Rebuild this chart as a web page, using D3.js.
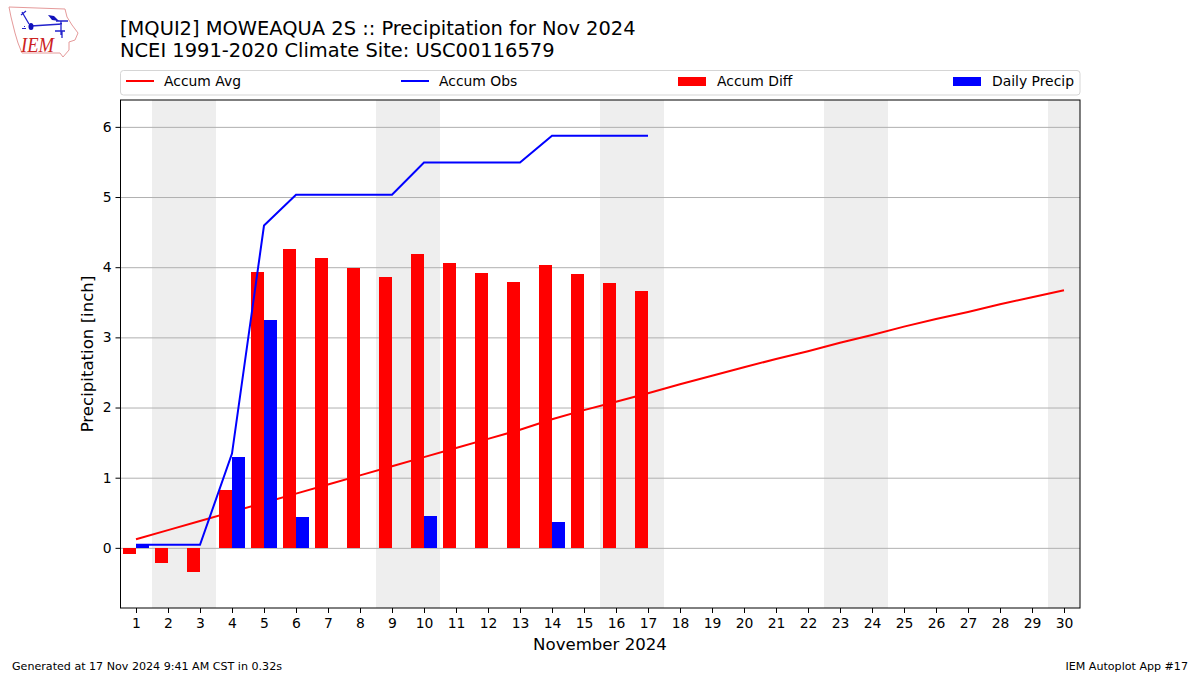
<!DOCTYPE html>
<html>
<head>
<meta charset="utf-8">
<script src="https://d3js.org/d3.v7.min.js"></script>
<style>
    html, body { margin: 0; padding: 0; background: #fff; }
    svg { display: block; }
    text { font-family: "DejaVu Sans", sans-serif; fill: #000; }
    .tick text { font-size: 13.9px; }
</style>
</head>
<body>
<svg id="chart" width="1200" height="675"></svg>
<script>
const days = d3.range(1, 31);
const weekendDays = [2, 3, 9, 10, 16, 17, 23, 24, 30];
const yTicks = [0, 1, 2, 3, 4, 5, 6];

const accumAvg = [0.13, 0.26, 0.39, 0.52, 0.65, 0.78, 0.91, 1.04, 1.17, 1.30,
    1.43, 1.56, 1.69, 1.84, 1.97, 2.09, 2.21, 2.34, 2.46, 2.58,
    2.70, 2.81, 2.93, 3.04, 3.16, 3.27, 3.37, 3.48, 3.58, 3.68];
const accumObs = [0.05, 0.05, 0.05, 1.35, 4.60, 5.04, 5.04, 5.04, 5.04, 5.50,
    5.50, 5.50, 5.50, 5.88, 5.88, 5.88, 5.88];
const accumDiff = [-0.08, -0.21, -0.34, 0.83, 3.94, 4.26, 4.14, 4.00, 3.87, 4.20,
    4.07, 3.93, 3.80, 4.04, 3.91, 3.78, 3.67];
const dailyPrecip = [0.05, 0, 0, 1.30, 3.25, 0.45, 0, 0, 0, 0.46,
    0, 0, 0, 0.38, 0, 0, 0];

const svg = d3.select('#chart');
const left = 120, right = 1080, top_ = 100, bottom = 608;

const x = d3.scaleLinear().domain([0.5, 30.5]).range([left, right]);
const y = d3.scaleLinear().domain([-0.85, 6.39]).range([bottom, top_]);
const barW = x(1.4) - x(1);

// weekends
svg.append('g').selectAll('rect')
    .data(weekendDays)
    .enter()
    .append('rect')
    .attr('x', d => x(d - 0.5))
    .attr('y', top_)
    .attr('width', x(1) - x(0))
    .attr('height', bottom - top_)
    .attr('fill', '#eeeeee');

// grid
svg.append('g').selectAll('line')
    .data(yTicks)
    .enter()
    .append('line')
    .attr('x1', left)
    .attr('x2', right)
    .attr('y1', d => y(d))
    .attr('y2', d => y(d))
    .attr('stroke', '#b0b0b0')
    .attr('stroke-width', 1);

const line = d3.line().x((d, i) => x(days[i])).y(d => y(d));

// avg sits under the bars, obs on top of them
svg.append('path')
    .attr('d', line(accumAvg))
    .attr('fill', 'none')
    .attr('stroke', '#ff0000')
    .attr('stroke-width', 2);

// bars
svg.append('g').attr('shape-rendering', 'crispEdges').selectAll('rect')
    .data(accumDiff)
    .enter()
    .append('rect')
    .attr('x', (d, i) => x(days[i] - 0.4))
    .attr('y', d => y(Math.max(d, 0)))
    .attr('width', barW)
    .attr('height', d => Math.abs(y(d) - y(0)))
    .attr('fill', '#ff0000');

svg.append('g').attr('shape-rendering', 'crispEdges').selectAll('rect')
    .data(dailyPrecip)
    .enter()
    .append('rect')
    .attr('x', (d, i) => x(days[i]))
    .attr('y', d => y(d))
    .attr('width', barW)
    .attr('height', d => y(0) - y(d))
    .attr('fill', '#0000ff');

svg.append('path')
    .attr('d', line(accumObs))
    .attr('fill', 'none')
    .attr('stroke', '#0000ff')
    .attr('stroke-width', 2);

// axes
svg.append('g')
    .attr('transform', `translate(0,${bottom})`)
    .call(d3.axisBottom(x).tickValues(days).tickFormat(d3.format('d')).tickSize(5).tickPadding(5).offset(0.5));
svg.append('g')
    .attr('transform', `translate(${left + 0.5},0)`)
    .call(d3.axisLeft(y).tickValues(yTicks).tickFormat(d3.format('d')).tickSize(5).tickPadding(4).offset(0));
svg.selectAll('.domain').remove();
svg.selectAll('.tick line').attr('stroke', '#000').attr('stroke-width', 1);

svg.append('rect')
    .attr('x', left + 0.5)
    .attr('y', top_)
    .attr('width', right - left - 0.5)
    .attr('height', bottom - top_)
    .attr('fill', 'none')
    .attr('stroke', '#000')
    .attr('stroke-width', 1);

// titles
svg.append('text').attr('x', 120).attr('y', 35).attr('font-size', 19.44)
    .text('[MQUI2] MOWEAQUA 2S :: Precipitation for Nov 2024');
svg.append('text').attr('x', 120).attr('y', 57).attr('font-size', 19.44)
    .text('NCEI 1991-2020 Climate Site: USC00116579');

svg.append('text').attr('x', 600).attr('y', 649.5).attr('font-size', 16.6)
    .attr('text-anchor', 'middle').text('November 2024');
svg.append('text').attr('transform', 'translate(93,354) rotate(-90)').attr('font-size', 16.6)
    .attr('text-anchor', 'middle').text('Precipitation [inch]');

svg.append('text').attr('x', 12).attr('y', 670).attr('font-size', 11.1)
    .text('Generated at 17 Nov 2024 9:41 AM CST in 0.32s');
svg.append('text').attr('x', 1188).attr('y', 670).attr('font-size', 11.1)
    .attr('text-anchor', 'end').text('IEM Autoplot App #17');

// legend
const legendNames = ['Accum Avg', 'Accum Obs', 'Accum Diff', 'Daily Precip'];
const legendColors = ['#ff0000', '#0000ff', '#ff0000', '#0000ff'];
const legendKinds = ['line', 'line', 'patch', 'patch'];
const legendX = [126, 401, 678, 953];

const legend = svg.append('g');
legend.append('rect')
    .attr('x', 120.5).attr('y', 70.5).attr('width', 959.5).attr('height', 24.5)
    .attr('rx', 3).attr('fill', '#fff').attr('stroke', '#d5d5d5');

legendNames.forEach((name, i) => {
    if (legendKinds[i] == 'line') {
        legend.append('line')
            .attr('x1', legendX[i]).attr('x2', legendX[i] + 28)
            .attr('y1', 81).attr('y2', 81)
            .attr('stroke', legendColors[i]).attr('stroke-width', 2);
    } else {
        legend.append('rect')
            .attr('x', legendX[i]).attr('y', 77).attr('width', 28).attr('height', 9)
            .attr('fill', legendColors[i]);
    }
    legend.append('text')
        .attr('x', legendX[i] + (legendKinds[i] == 'line' ? 38 : 39))
        .attr('y', 86).attr('font-size', 13.9)
        .text(name);
});

// IEM logo
const logo = svg.append('g');
logo.append('path')
    .attr('d', 'M9 7 L65 9 L67 17 L72 25 L78 33 L75 40 L69 42 L69 50 L63 57 L60 53 L22 53 L18 43 L15 33 L11 17 Z')
    .attr('fill', 'none').attr('stroke', '#e59a9a').attr('stroke-width', 1);
logo.append('path')
    .attr('d', 'M31 26 L62 24 M61 21 V35 M56 21 H68 M22 12 L29 24 M21 15 L26 11 M55 31 H65 M62 31 V38')
    .attr('fill', 'none').attr('stroke', '#2222cc').attr('stroke-width', 1.3);
logo.append('ellipse').attr('cx', 31).attr('cy', 26.5).attr('rx', 2.5).attr('ry', 3.5).attr('fill', '#1111bb');
logo.append('path').attr('d', 'M48 15 L54 16 L59 21 L52 20 Z').attr('fill', '#1111bb');
logo.append('path').attr('d', 'M22 29 h4 v-1 h-4 Z M24 26 h1 v1 h-1 Z').attr('fill', '#2222cc');
logo.append('text').attr('x', 21).attr('y', 52).attr('font-size', 21)
    .attr('textLength', 33).attr('lengthAdjust', 'spacingAndGlyphs')
    .style('font-family', '"Liberation Serif", serif').style('font-style', 'italic')
    .style('fill', '#cc2222').text('IEM');
</script>
</body>
</html>
